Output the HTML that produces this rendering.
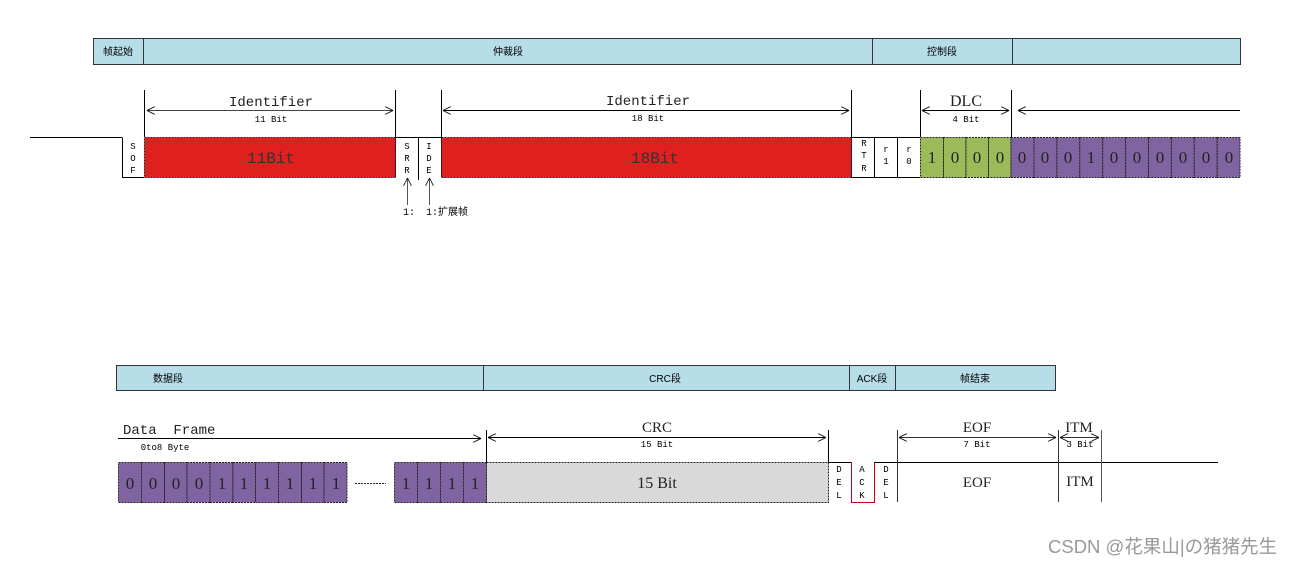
<!DOCTYPE html>
<html><head><meta charset="utf-8"><style>
html,body{margin:0;padding:0;background:#fff;}
svg{display:block;font-family:"Liberation Mono","Noto Serif CJK SC",monospace;}
.cj{font-family:"Liberation Sans","Noto Sans CJK SC",sans-serif;}
.sr{font-family:"Liberation Serif",serif;}
</style></head><body>
<svg width="1294" height="565" viewBox="0 0 1294 565" xmlns="http://www.w3.org/2000/svg">
<defs>
<marker id="a" viewBox="0 0 10 10" refX="10" refY="5" markerWidth="8" markerHeight="8" orient="auto-start-reverse" markerUnits="userSpaceOnUse"><path d="M0,0 L10,5 L0,10" fill="none" stroke="#000" stroke-width="1"/></marker>
</defs>
<g stroke="#333" stroke-width="1" fill="#b7dde8">
<rect x="93.5" y="38.5" width="50" height="26"/>
<rect x="143.5" y="38.5" width="729" height="26"/>
<rect x="872.5" y="38.5" width="140" height="26"/>
<rect x="1012.5" y="38.5" width="228" height="26"/>
</g>
<g class="cj" font-size="10" fill="#000" text-anchor="middle">
<text x="118" y="55">帧起始</text><text x="508" y="55">仲裁段</text><text x="942" y="55">控制段</text>
</g>
<g stroke="#000" stroke-width="1" fill="none">
<line x1="30" y1="137.5" x2="122" y2="137.5"/>
<path d="M122.5,137.5 V177.5 H144"/>
<line x1="144.5" y1="90" x2="144.5" y2="137"/>
<line x1="395.5" y1="90" x2="395.5" y2="177"/>
<line x1="441.5" y1="90" x2="441.5" y2="177"/>
<line x1="851.5" y1="90" x2="851.5" y2="177"/>
<line x1="418.5" y1="137" x2="418.5" y2="180"/>
<line x1="395" y1="137.5" x2="441" y2="137.5"/>
<line x1="851" y1="137.5" x2="920" y2="137.5"/>
<path d="M851,177.5 H920"/>
<line x1="874.5" y1="137" x2="874.5" y2="177"/>
<line x1="897.5" y1="137" x2="897.5" y2="177"/>
<line x1="920.5" y1="90" x2="920.5" y2="137"/>
<line x1="1011.5" y1="90" x2="1011.5" y2="137"/>
<line x1="147" y1="110.5" x2="393" y2="110.5" marker-start="url(#a)" marker-end="url(#a)" stroke="#444"/>
<line x1="443" y1="110.5" x2="849" y2="110.5" marker-start="url(#a)" marker-end="url(#a)"/>
<line x1="922" y1="110.5" x2="1009" y2="110.5" marker-start="url(#a)" marker-end="url(#a)"/>
<line x1="1240" y1="110.5" x2="1018" y2="110.5" marker-end="url(#a)"/>
<line x1="407.5" y1="205" x2="407.5" y2="178" marker-end="url(#a)" stroke="#555"/>
<line x1="429.5" y1="205" x2="429.5" y2="178" marker-end="url(#a)" stroke="#555"/>
</g>
<g stroke="#222" stroke-width="1" stroke-dasharray="2,1">
<rect x="144.5" y="137.5" width="251" height="40" fill="#e01f1f"/>
<rect x="441.5" y="137.5" width="410" height="40" fill="#e01f1f"/>
<rect x="920.5" y="137.5" width="23" height="40" fill="#9bbb59"/>
<rect x="943.5" y="137.5" width="22.5" height="40" fill="#9bbb59"/>
<rect x="966" y="137.5" width="22.5" height="40" fill="#9bbb59"/>
<rect x="988.5" y="137.5" width="22.5" height="40" fill="#9bbb59"/>
<g fill="#8064a2">
<rect x="1011" y="137.5" width="23" height="40"/><rect x="1034" y="137.5" width="22.9" height="40"/>
<rect x="1056.9" y="137.5" width="22.9" height="40"/><rect x="1079.8" y="137.5" width="22.9" height="40"/>
<rect x="1102.7" y="137.5" width="22.9" height="40"/><rect x="1125.6" y="137.5" width="22.9" height="40"/>
<rect x="1148.5" y="137.5" width="22.9" height="40"/><rect x="1171.4" y="137.5" width="22.9" height="40"/>
<rect x="1194.3" y="137.5" width="22.9" height="40"/><rect x="1217.2" y="137.5" width="22.8" height="40"/>
</g>
</g>
<g font-size="16" text-anchor="middle" fill="#222">
<text x="271" y="106" font-size="14">Identifier</text>
<text x="648" y="105" font-size="14">Identifier</text>
<text x="966" y="106" font-size="14" class="sr" style="font-size:16px">DLC</text>
<text x="271" y="163" fill="#333">11Bit</text>
<text x="655" y="163" fill="#333">18Bit</text>
<g font-size="17" class="sr">
<text x="932" y="163">1</text><text x="955" y="163">0</text><text x="977" y="163">0</text><text x="1000" y="163">0</text>
<text x="1022" y="163">0</text><text x="1045" y="163">0</text><text x="1068" y="163">0</text><text x="1091" y="163">1</text>
<text x="1114" y="163">0</text><text x="1137" y="163">0</text><text x="1160" y="163">0</text><text x="1183" y="163">0</text>
<text x="1206" y="163">0</text><text x="1229" y="163">0</text>
</g>
</g>
<g font-size="9" text-anchor="middle" fill="#000">
<text x="271" y="122">11 Bit</text><text x="648" y="121">18 Bit</text><text x="966" y="122">4 Bit</text>
<text x="133" y="149">S</text><text x="133" y="161">O</text><text x="133" y="173">F</text>
<text x="407" y="149">S</text><text x="407" y="161">R</text><text x="407" y="173">R</text>
<text x="429" y="149">I</text><text x="429" y="161">D</text><text x="429" y="173">E</text>
<text x="864" y="146">R</text><text x="864" y="158">T</text><text x="864" y="171">R</text>
<text x="886" y="152">r</text><text x="886" y="164">1</text>
<text x="909" y="152">r</text><text x="909" y="164">0</text>
</g>
<g font-size="10" fill="#000">
<text x="403" y="215">1:</text><text x="426" y="215">1:<tspan class="cj">扩展帧</tspan></text>
</g>
<g stroke="#333" stroke-width="1" fill="#b7dde8">
<rect x="116.5" y="365.5" width="367" height="25"/>
<rect x="483.5" y="365.5" width="366" height="25"/>
<rect x="849.5" y="365.5" width="46" height="25"/>
<rect x="895.5" y="365.5" width="160" height="25"/>
</g>
<g class="cj" font-size="10" fill="#000" text-anchor="middle">
<text x="168" y="382">数据段</text><text x="665" y="382">CRC段</text><text x="872" y="382">ACK段</text><text x="975" y="382">帧结束</text>
</g>
<g stroke="#222" stroke-width="1" stroke-dasharray="2,1" fill="#8064a2">
<rect x="118.5" y="462.5" width="23" height="40"/><rect x="141.5" y="462.5" width="23" height="40"/>
<rect x="164.5" y="462.5" width="22.5" height="40"/><rect x="187" y="462.5" width="23" height="40"/>
<rect x="210" y="462.5" width="23" height="40"/><rect x="233" y="462.5" width="22.5" height="40"/>
<rect x="255.5" y="462.5" width="23" height="40"/><rect x="278.5" y="462.5" width="23" height="40"/>
<rect x="301.5" y="462.5" width="22.5" height="40"/><rect x="324" y="462.5" width="23" height="40"/>
<rect x="394.5" y="462.5" width="23" height="40"/><rect x="417.5" y="462.5" width="23" height="40"/>
<rect x="440.5" y="462.5" width="23" height="40"/><rect x="463.5" y="462.5" width="23" height="40"/>
<rect x="486.5" y="462.5" width="342" height="40" fill="#d9d9d9"/>
</g>
<line x1="355" y1="483.5" x2="386" y2="483.5" stroke="#222" stroke-dasharray="2,1"/>
<g stroke="#000" stroke-width="1" fill="none">
<line x1="118" y1="438.5" x2="481" y2="438.5" marker-end="url(#a)"/>
<line x1="486.5" y1="430" x2="486.5" y2="462"/>
<line x1="488" y1="437.5" x2="826" y2="437.5" marker-start="url(#a)" marker-end="url(#a)"/>
<line x1="828.5" y1="430" x2="828.5" y2="462"/>
<line x1="828" y1="462.5" x2="851" y2="462.5"/>
<path d="M851.5,462 V502.5 H874.5 V462" stroke="#c00"/>
<line x1="874" y1="462.5" x2="1218" y2="462.5"/>
<line x1="897.5" y1="430" x2="897.5" y2="502" stroke="#333"/>
<line x1="1058.5" y1="430" x2="1058.5" y2="502" stroke="#333"/>
<line x1="1101.5" y1="430" x2="1101.5" y2="502" stroke="#555"/>
<line x1="899" y1="437.5" x2="1056" y2="437.5" marker-start="url(#a)" marker-end="url(#a)" stroke="#333"/>
<line x1="1060" y1="437.5" x2="1099" y2="437.5" marker-start="url(#a)" marker-end="url(#a)" stroke="#333"/>
</g>
<text x="123" y="434" font-size="14" fill="#222">Data&#160;&#160;Frame</text>
<g font-size="15" fill="#222" text-anchor="middle" class="sr">
<text x="657" y="432">CRC</text><text x="977" y="432">EOF</text><text x="1079" y="432">ITM</text>
<text x="977" y="487">EOF</text><text x="1080" y="486">ITM</text>
<text x="657" y="488" font-size="16">15 Bit</text>
<g font-size="17">
<text x="130" y="489">0</text><text x="153" y="489">0</text><text x="176" y="489">0</text><text x="199" y="489">0</text>
<text x="222" y="489">1</text><text x="244" y="489">1</text><text x="267" y="489">1</text><text x="290" y="489">1</text>
<text x="313" y="489">1</text><text x="336" y="489">1</text>
<text x="406" y="489">1</text><text x="429" y="489">1</text><text x="452" y="489">1</text><text x="475" y="489">1</text>
</g>
</g>
<g font-size="9" fill="#000" text-anchor="middle">
<text x="165" y="450">0to8 Byte</text><text x="657" y="447">15 Bit</text>
<text x="977" y="447">7 Bit</text><text x="1080" y="447">3 Bit</text>
<text x="839" y="472">D</text><text x="839" y="485">E</text><text x="839" y="498">L</text>
<text x="862" y="472">A</text><text x="862" y="485">C</text><text x="862" y="498">K</text>
<text x="886" y="472">D</text><text x="886" y="485">E</text><text x="886" y="498">L</text>
</g>
<text x="1048" y="553" class="cj" font-size="18.5" fill="#999">CSDN @花果山|の猪猪先生</text>
</svg>
</body></html>
